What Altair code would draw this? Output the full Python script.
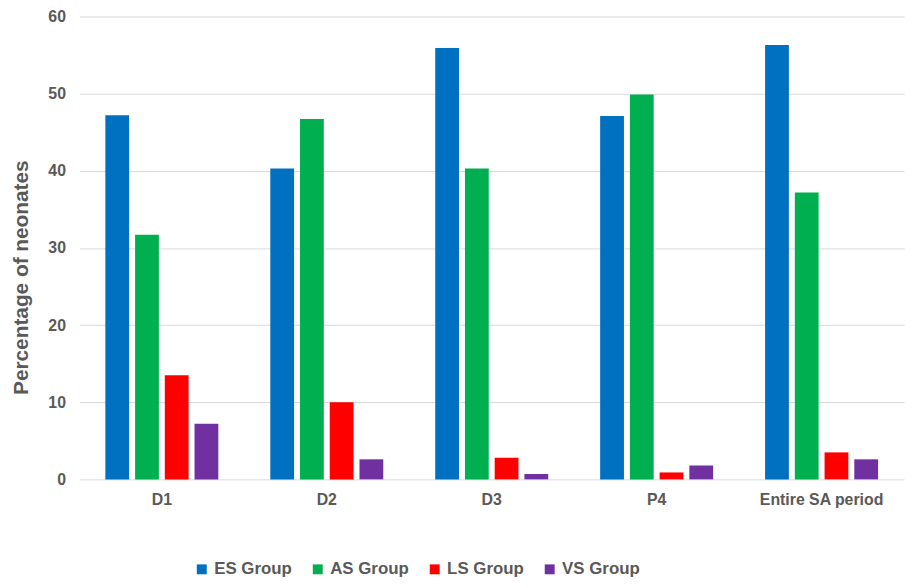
import altair as alt
import pandas as pd

categories = ["D1", "D2", "D3", "P4", "Entire SA period"]
groups = ["ES Group", "AS Group", "LS Group", "VS Group"]
es_values = [47.2, 40.3, 55.9, 47.1, 56.3]
as_values = [31.7, 46.7, 40.3, 49.9, 37.2]
ls_values = [13.5, 10.0, 2.8, 0.9, 3.5]
vs_values = [7.2, 2.6, 0.7, 1.8, 2.6]
colors = ["#0070C0", "#00B050", "#FF0000", "#7030A0"]
y_ticks = [0, 10, 20, 30, 40, 50, 60]

rows = []
for g, vals in zip(groups, [es_values, as_values, ls_values, vs_values]):
    for c, v in zip(categories, vals):
        rows.append({"period": c, "group": g, "value": v})
df = pd.DataFrame(rows)

FONT = "Liberation Sans"
GRAY = "#595959"

chart = alt.Chart(df).mark_bar().encode(
    x=alt.X("period:N", sort=categories,
            scale=alt.Scale(paddingInner=0.315, paddingOuter=0.1575),
            axis=alt.Axis(title=None, labelAngle=0, domain=False, ticks=False,
                          labelPadding=12, labelFont=FONT, labelFontSize=16,
                          labelFontWeight="bold", labelColor=GRAY, grid=False)),
    xOffset=alt.XOffset("group:N", sort=groups,
                        scale=alt.Scale(paddingInner=0.2, paddingOuter=0)),
    y=alt.Y("value:Q", scale=alt.Scale(domain=[0, 60], nice=False),
            axis=alt.Axis(title="Percentage of neonates", values=y_ticks,
                          domain=False, ticks=False, labelPadding=14,
                          labelFont=FONT, labelFontSize=16, labelFontWeight="bold",
                          labelColor=GRAY, gridColor="#D9D9D9", gridWidth=1,
                          titleFont=FONT, titleFontSize=21, titleFontWeight="bold",
                          titleColor=GRAY, titleX=-58, titleY=263,
                          titleAngle=270, titleAlign="center",
                          titleBaseline="middle")),
    color=alt.Color("group:N", sort=groups,
                    scale=alt.Scale(domain=groups, range=colors),
                    legend=alt.Legend(title=None, orient="none", direction="horizontal",
                                      legendX=115, legendY=549,
                                      symbolType="square", symbolSize=100,
                                      symbolStrokeWidth=0, symbolOpacity=1,
                                      labelFont=FONT, labelFontSize=17,
                                      labelFontWeight="bold", labelColor=GRAY,
                                      labelOffset=4, columnPadding=17)),
).properties(
    width=832, height=467,
    autosize=alt.AutoSizeParams(type="none"),
    padding={"left": 72, "top": 6, "right": 6, "bottom": 104},
).configure(background="white").configure_view(strokeWidth=0, stroke=None)

chart.save("out.html", embed_options={"renderer": "svg", "actions": False})
